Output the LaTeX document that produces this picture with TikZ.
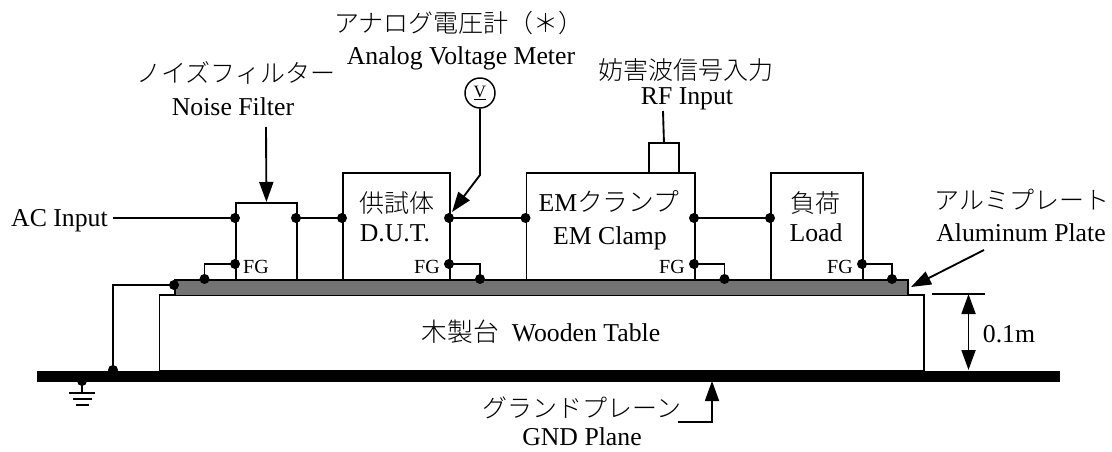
\documentclass[tikz,border=0pt]{standalone}
\usepackage{fontspec}
\setmainfont{Liberation Serif}
\newfontfamily\jp{Noto Sans CJK JP Light}
\usetikzlibrary{arrows.meta}
\tikzset{
  wire/.style={line width=1.4pt,line join=miter},
  box/.style={draw,line width=1.4pt,inner sep=0pt,anchor=north west},
  jdot/.style={circle,fill=black,inner sep=0pt,minimum size=7.5pt},
  lat/.style={font=\fontsize{19.3}{20}\selectfont,inner sep=0pt,anchor=base},
  jap/.style={font=\jp\fontsize{18.75}{20}\selectfont,inner sep=0pt},
  fg/.style={font=\fontsize{15}{16}\selectfont,inner sep=0pt,anchor=base},
  big/.style={-{Triangle[length=15pt,width=10.5pt]},wire},
  bigboth/.style={{Triangle[length=15pt,width=10.5pt]}-{Triangle[length=15pt,width=10.5pt]},wire},
}
\begin{document}
\begin{tikzpicture}[x=0.75pt,y=-0.75pt]
\useasboundingbox (0,0) rectangle (1112,452);
% table, plane, plate
\node[box,minimum width=764.5*0.75pt,minimum height=76*0.75pt] (table) at (158.5,294) {};
\node[box,fill=black,draw=none,minimum width=1023*0.75pt,minimum height=11*0.75pt] (gnd) at (36,370) {};
\node[box,fill=black!55,minimum width=733*0.75pt,minimum height=15.5*0.75pt] (plate) at (174,279) {};
% equipment
\node[box,minimum width=61*0.75pt,minimum height=77*0.75pt] (filter) at (235,202) {};
\node[box,minimum width=107*0.75pt,minimum height=107*0.75pt] (dut) at (342,172) {};
\node[box,minimum width=168.5*0.75pt,minimum height=107*0.75pt] (clamp) at (525.5,172) {};
\node[box,minimum width=92*0.75pt,minimum height=107*0.75pt] (load) at (770,172) {};
\node[box,minimum width=30*0.75pt,minimum height=30*0.75pt] (rfbox) at (648,142) {};
\node[draw,circle,line width=1.1pt,minimum size=30*0.75pt,inner sep=0pt,font=\fontsize{13}{14}\selectfont] (vm) at (480,93) {\underline{V}};
% labels
\node[jap] (l1) at (459,23) {アナログ電圧計（＊）};
\node[lat] (l2) at (461,65) {Analog Voltage Meter};
\node[jap] (l3) at (686,70) {妨害波信号入力};
\node[lat] (l4) at (687,105) {RF Input};
\node[jap] (l5) at (236,73) {ノイズフィルター};
\node[lat] (l6) at (233,116) {Noise Filter};
\node[lat,anchor=base east] (ac) at (108,226) {AC Input};
\node[jap] (l7) at (396.5,203) {供試体};
\node[lat] (l8) at (395,242) {D.U.T.};
\node[lat] (l9) at (609,212) {EM{\jp クランプ}};
\node[lat] (l10) at (610,244) {EM Clamp};
\node[jap] (l11) at (815,203) {負荷};
\node[lat] (l12) at (816,242) {Load};
\node[jap] (l13) at (1022,200) {アルミプレート};
\node[lat] (l14) at (1021,242) {Aluminum Plate};
\node[lat] (l15) at (541,341) {{\jp 木製台}\hspace{0.5em}Wooden Table};
\node[lat] (l16) at (1009,342) {0.1m};
\node[jap] (l17) at (582,408) {グランドプレーン};
\node[lat] (l18) at (582,445) {GND Plane};
\node[fg] (fg1) at (256,273) {FG};
\node[fg] (fg2) at (427,273) {FG};
\node[fg] (fg3) at (672,273) {FG};
\node[fg] (fg4) at (840,273) {FG};
% dots
\node[jdot] (a1) at (235,218) {};
\node[jdot] (a2) at (296,218) {};
\node[jdot] (b1) at (342,218) {};
\node[jdot] (b2) at (449,218) {};
\node[jdot] (c1) at (525.5,218) {};
\node[jdot] (c2) at (694,218) {};
\node[jdot] (e1) at (770,218) {};
\node[jdot] (f1) at (235,264) {};
\node[jdot] (f2) at (204.5,279) {};
\node[jdot] (f3) at (449,264) {};
\node[jdot] (f4) at (480,279) {};
\node[jdot] (f5) at (694,264) {};
\node[jdot] (f6) at (724.5,279) {};
\node[jdot] (f7) at (862,264) {};
\node[jdot] (f8) at (892,279) {};
\node[jdot] (p1) at (174,285) {};
\node[jdot] (g1) at (113,370) {};
\node[jdot] (g2) at (82,381) {};
% free ends
\coordinate (t1) at (266,127);
\coordinate (vk) at (480,175);
\coordinate (vt) at (452,212);
\coordinate (rf) at (663,111);
\coordinate (g3) at (82,393);
\coordinate (alt) at (911,287);
\coordinate (als) at (984,250);
\coordinate (d1) at (932,294);
\coordinate (d2) at (985,294);
\coordinate (d3) at (968.5,294);
\coordinate (d4) at (968.5,370);
\coordinate (u1) at (678,422);
\coordinate (u2) at (712,422);
\coordinate (u3) at (712,381);
% connectors
\draw[wire] (113,218) -- (a1.center);
\draw[wire] (a2.center) -- (b1.center);
\draw[wire] (b2.center) -- (c1.center);
\draw[wire] (c2.center) -- (e1.center);
\draw[wire] (f1.center) -| (f2.center);
\draw[wire] (f3.center) -| (f4.center);
\draw[wire] (f5.center) -| (f6.center);
\draw[wire] (f7.center) -| (f8.center);
\draw[wire] (p1.center) -| (g1.center);
\draw[big] (t1) -- (filter.north);
\draw[big] (vm.south) -- (vk) -- (vt);
\draw[wire] (rf) -- (rfbox.north);
\draw[wire] (g2.center) -- (g3);
\draw[wire] (69,393) -- (95,393);
\draw[wire] (73,399) -- (92,399);
\draw[wire] (76,405) -- (89,405);
\draw[big] (als) -- (alt);
\draw[wire] (d1) -- (d2);
\draw[bigboth] (d3) -- (d4);
\draw[big] (u1) -- (u2) -- (u3);
\end{tikzpicture}
\end{document}
